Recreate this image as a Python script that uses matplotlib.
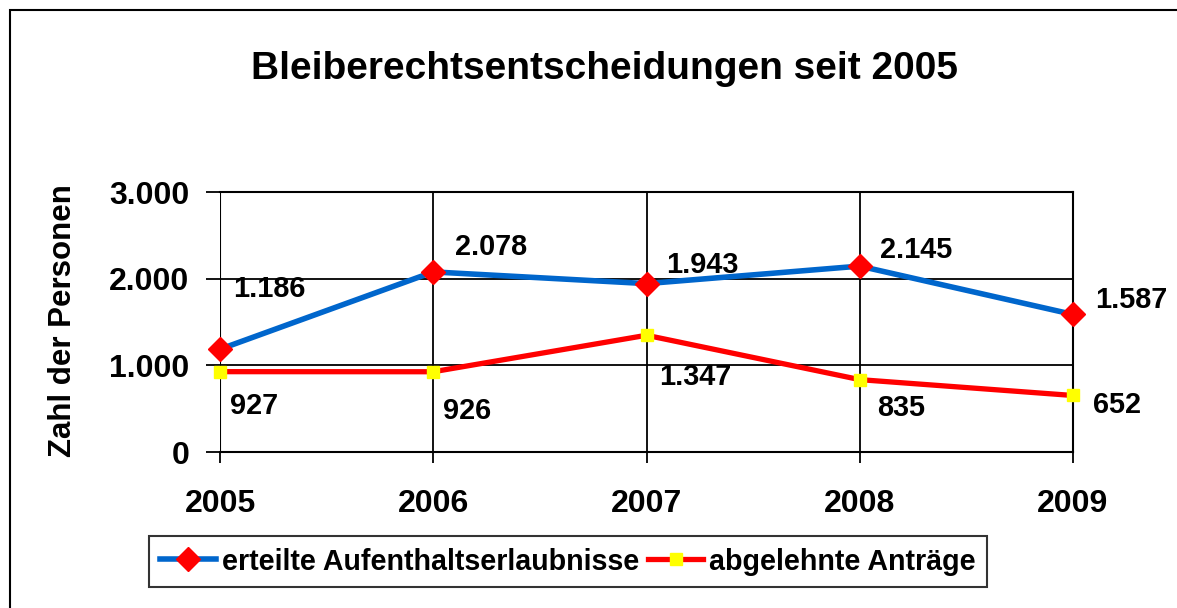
import matplotlib.pyplot as plt
from matplotlib.patches import Rectangle

jahre = ['2005', '2006', '2007', '2008', '2009']
erteilt = [1186, 2078, 1943, 2145, 1587]
abgelehnt = [927, 926, 1347, 835, 652]
yticks = [0, 1000, 2000, 3000]

# label offsets in pixels (dx, dy) relative to the point
off_erteilt = [(13, 60), (22, 25), (20, 19), (20, 16), (22, 14)]
off_abgel = [(10, -34), (10, -39), (13, -42), (17, -28), (20, -10)]

plt.rcParams['font.family'] = ['Liberation Sans', 'DejaVu Sans']
plt.rcParams['font.weight'] = 'bold'

def fmt(v):
    return f'{v:,}'.replace(',', '.')

W, H = 1177, 608
fig = plt.figure(figsize=(W / 100, H / 100), dpi=100)
ax = fig.add_axes([220 / W, 1 - 452 / H, (1073 - 220) / W, (452 - 192) / H])

x = list(range(len(jahre)))
ax.plot(x, erteilt, color='#0066CC', lw=4, marker='D', ms=12, clip_on=False,
        mfc='#FF0000', mec='#FF0000', label='erteilte Aufenthaltserlaubnisse', zorder=3)
ax.plot(x, abgelehnt, color='#FF0000', lw=3.8, marker='s', ms=8.5, clip_on=False,
        mfc='#FFFF00', mec='#FFFF00', label='abgelehnte Anträge', zorder=3)

for i, v in enumerate(erteilt):
    ax.annotate(fmt(v), (i, v), xytext=off_erteilt[i], textcoords='offset pixels',
                ha='left', va='center', fontsize=20.8, fontweight='bold')
for i, v in enumerate(abgelehnt):
    ax.annotate(fmt(v), (i, v), xytext=off_abgel[i], textcoords='offset pixels',
                ha='left', va='center', fontsize=20.8, fontweight='bold')

ax.set_xlim(0, len(jahre) - 1)
ax.set_ylim(0, 3000)
ax.set_xticks(x)
ax.set_xticklabels(jahre)
ax.set_yticks(yticks)
ax.set_yticklabels([fmt(v) for v in yticks])
ax.grid(True, color='black', lw=1.3)
ax.set_axisbelow(True)
for s in ax.spines.values():
    s.set_linewidth(1.5)
ax.spines['left'].set_visible(False)
ax.tick_params(axis='y', length=10, width=1.3, pad=12, labelsize=23)
ax.tick_params(axis='x', length=8, width=1.3, pad=19, labelsize=23)
for lab in ax.get_xticklabels() + ax.get_yticklabels():
    lab.set_fontweight('bold')
ax.axvline(0, color='black', lw=1.5, zorder=1)

fig.text(63 / W, 1 - 321 / H, 'Zahl der Personen', rotation=90, ha='center', va='center',
         fontsize=22.5, fontweight='bold')
fig.text(605 / W, 1 - 69 / H, 'Bleiberechtsentscheidungen seit 2005', ha='center', va='center',
         fontsize=28, fontweight='bold')

leg = fig.legend(loc='center', bbox_to_anchor=(568 / W, 1 - 561.5 / H), ncol=2,
                 fontsize=20.6, frameon=True, fancybox=False, handlelength=1.95,
                 handletextpad=0.2, columnspacing=0.3, borderpad=0.4, borderaxespad=0)
leg.get_frame().set_edgecolor('black')
leg.get_frame().set_linewidth(1.5)
for t in leg.get_texts():
    t.set_fontweight('bold')

fig.add_artist(Rectangle((10 / W, -0.02), 1.1, 1.02 - 10 / H, transform=fig.transFigure,
                         fill=False, edgecolor='black', lw=1.5))

fig.savefig('out.png', dpi=100)
